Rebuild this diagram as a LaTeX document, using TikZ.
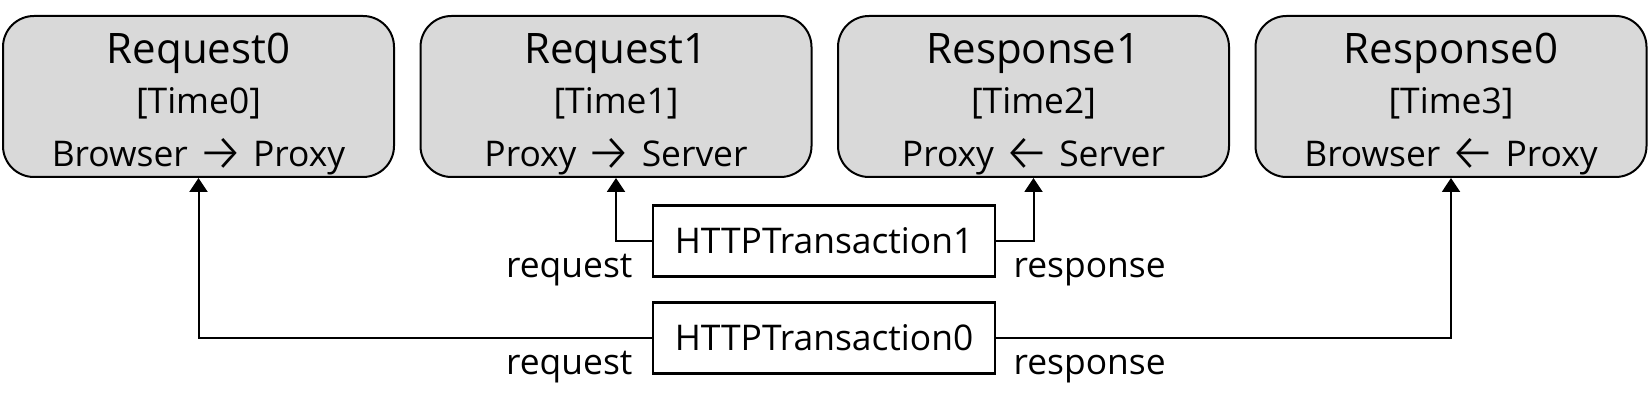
\documentclass[tikz,border=0pt]{standalone}
\usepackage{fontspec}
\setmainfont{Open Sans}
\newfontfamily\arrowfont{Fira Sans Light}
\usetikzlibrary{positioning,arrows.meta}
\definecolor{boxgray}{RGB}{217,217,217}
\newcommand{\toR}{\raisebox{-2pt}[0pt][0pt]{\fontsize{26pt}{26pt}\arrowfont\symbol{"2192}}}
\newcommand{\toL}{\raisebox{-2pt}[0pt][0pt]{\fontsize{26pt}{26pt}\arrowfont\symbol{"2190}}}
\newcommand{\hd}[1]{{\fontsize{21pt}{25pt}\selectfont\rule{0pt}{22.5pt}#1}}
\tikzset{procbox/.style={draw,rounded corners=15.5pt,fill=boxgray,line width=1pt,minimum width=195.5pt,minimum height=80.5pt,align=center,inner sep=0pt,font=\fontsize{17.7pt}{25pt}\selectfont},
         txbox/.style={draw,line width=1.2pt,minimum width=171pt,minimum height=35.5pt,inner sep=0pt,font=\fontsize{17.7pt}{21pt}\selectfont},
         lbl/.style={inner sep=0pt,font=\fontsize{17.7pt}{21pt}\selectfont},
         conn/.style={line width=1pt,-{Triangle[width=9pt,length=7pt]}}
}

\begin{document}
\begin{tikzpicture}[x=0.5pt,y=-0.5pt,node distance=12.25pt]
  \useasboundingbox (0,0) rectangle (1648,415);
  % messages along the time line
  \node[procbox] (req0) at (198.5,96.5) {\hd{Request0}\\ {[Time0]}\\[1.5pt] Browser \toR{} Proxy};
  \node[procbox,right=of req0] (req1) {\hd{Request1}\\ {[Time1]}\\[1.5pt] Proxy \toR{} Server};
  \node[procbox,right=of req1] (resp1) {\hd{Response1}\\ {[Time2]}\\[1.5pt] Proxy \toL{} Server};
  \node[procbox,right=of resp1] (resp0) {\hd{Response0}\\ {[Time3]}\\[1.5pt] Browser \toL{} Proxy};
  % transactions
  \node[txbox] (tr1) at (824,241) {HTTPTransaction1};
  \node[txbox] (tr0) at (824,338) {HTTPTransaction0};
  \draw[conn](tr1.west)-|(req1.south);
  \draw[conn](tr1.east)-|(resp1.south);
  \draw[conn](tr0.west)-|(req0.south);
  \draw[conn](tr0.east)-|(resp0.south);
  \node[lbl,anchor=base east] (lreq1) at ([xshift=-9.5pt]tr1.south west) {request};
  \node[lbl,anchor=base west] (lresp1) at ([xshift=8.5pt]tr1.south east) {response};
  \node[lbl,anchor=base east] (lreq0) at ([xshift=-9.5pt]tr0.south west) {request};
  \node[lbl,anchor=base west] (lresp0) at ([xshift=8.5pt]tr0.south east) {response};
\end{tikzpicture}
\end{document}
